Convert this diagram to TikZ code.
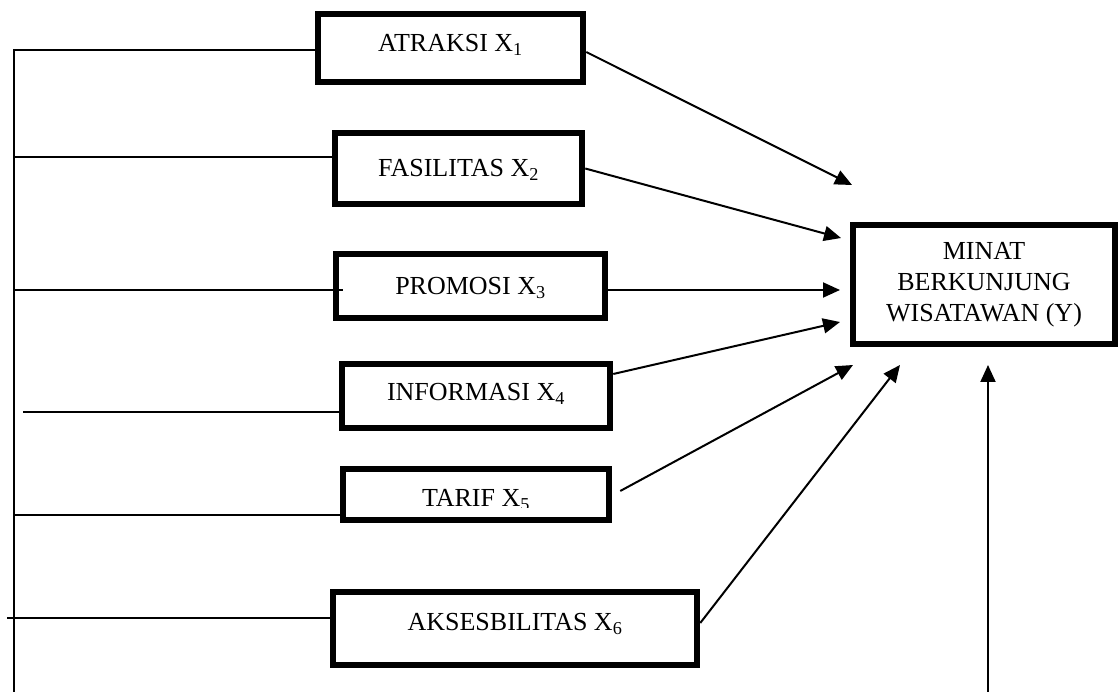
\documentclass[tikz,border=0pt]{standalone}
\usepackage{fontspec}
\setmainfont{Liberation Serif}
\usetikzlibrary{arrows.meta,calc}
\begin{document}
\begin{tikzpicture}[x=1pt,y=-1pt,
  box/.style={draw,line width=6.5pt,rectangle,inner sep=0pt},
  txt/.style={font=\fontsize{26}{31}\selectfont,text height=17pt,text depth=0pt,inner sep=0pt},
  wire/.style={line width=2pt},
  arr/.style={line width=2pt,-{Triangle[length=17pt,width=15pt]}}]
\useasboundingbox (0,0) rectangle (1120,692);

% boxes
\node[box,minimum width=265pt,minimum height=68pt,
  label={[txt,yshift=5pt]center:ATRAKSI X\textsubscript{1}}] (atr) at (450.5,48) {};
\node[box,minimum width=247pt,minimum height=71pt,
  label={[txt]center:FASILITAS X\textsubscript{2}}] (fas) at (458.5,168.5) {};
\node[box,minimum width=269pt,minimum height=64pt,
  label={[txt]center:PROMOSI X\textsubscript{3}}] (pro) at (470.5,286) {};
\node[box,minimum width=268pt,minimum height=64pt,
  label={[txt,yshift=4pt]center:INFORMASI X\textsubscript{4}}] (inf) at (476,396) {};
\node[box,minimum width=266pt,minimum height=51pt] (tar) at (476,494.5) {};
\begin{scope}
  \clip (345,470) rectangle (607,507.5);
  \node[txt] (tartext) at (476,498) {TARIF X\textsubscript{5}};
\end{scope}
\node[box,minimum width=364pt,minimum height=73pt,
  label={[txt,yshift=6.5pt]center:AKSESBILITAS X\textsubscript{6}}] (aks) at (515,628.5) {};
\node[box,minimum width=262pt,minimum height=119pt,align=center,
  font=\fontsize{26}{31}\selectfont] (min) at (984,284.5) {MINAT\\BERKUNJUNG\\WISATAWAN (Y)};

% left wiring
\coordinate (top) at (14,50);
\coordinate (bot) at (14,692);
\coordinate (l2) at (14,157);
\coordinate (l3) at (14,290);
\coordinate (l4) at (23,412);
\coordinate (l5) at (14,515);
\coordinate (l6) at (7,618);
\draw[wire] (bot) -- (top) -- (top -| atr.west);
\draw[wire] (l2) -- (l2 -| fas.west);
\draw[wire] (l3) -- ($(l3 -| pro.west)+(10,0)$);
\draw[wire] (l4) -- (l4 -| inf.west);
\draw[wire] (l5) -- (l5 -| tar.west);
\draw[wire] (l6) -- (l6 -| aks.west);

% arrows
\coordinate (t1) at (852,185);
\coordinate (t2) at (841,238);
\coordinate (t3) at (840,290);
\coordinate (t4) at (840,322);
\coordinate (t5) at (853,365);
\coordinate (t6) at (900,365);
\coordinate (t7) at (988,365);
\coordinate (b7) at (988,692);
\draw[arr] ($(atr.east)+(0,4)$) -- (t1);
\draw[arr] (fas.east) -- (t2);
\draw[arr] ($(pro.east)+(0,4)$) -- (t3);
\draw[arr] ($(inf.east)+(0,-22)$) -- (t4);
\draw[arr] ($(tar.east)+(8,-3.5)$) -- (t5);
\draw[arr] ($(aks.east)+(0,-5.5)$) -- (t6);
\draw[arr] (b7) -- (t7);
\end{tikzpicture}
\end{document}
